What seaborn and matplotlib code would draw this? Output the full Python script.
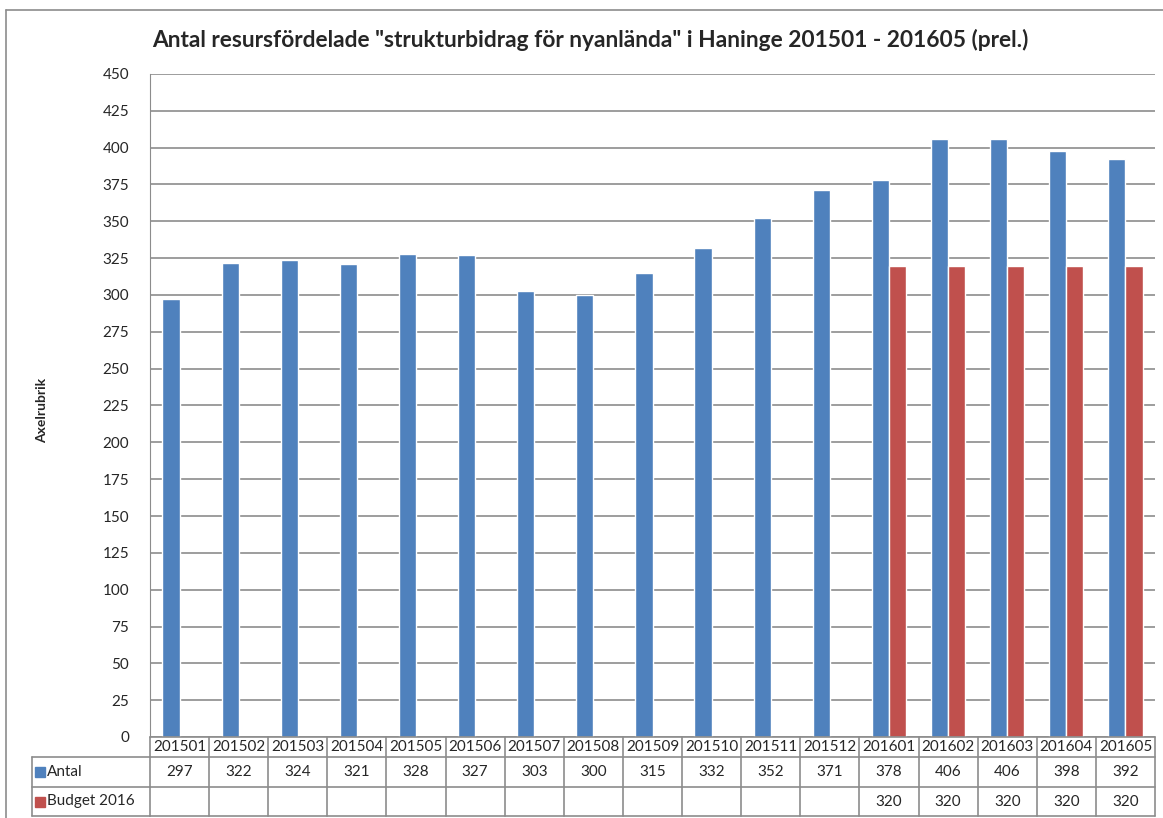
import pandas as pd
import numpy as np
import seaborn as sns
import matplotlib.pyplot as plt
from matplotlib.transforms import blended_transform_factory
from matplotlib.patches import Rectangle

# Data
months = ['201501', '201502', '201503', '201504', '201505', '201506', '201507', '201508', '201509',
          '201510', '201511', '201512', '201601', '201602', '201603', '201604', '201605']
antal = [297, 322, 324, 321, 328, 327, 303, 300, 315, 332, 352, 371, 378, 406, 406, 398, 392]
budget = [None] * 12 + [320, 320, 320, 320, 320]
series = ['Antal', 'Budget 2016']
colors = ['#4F81BD', '#C0504D']

data = pd.DataFrame({
    'Månad': months * 2,
    'Serie': ['Antal'] * len(months) + ['Budget 2016'] * len(months),
    'Värde': antal + budget,
})
data['Värde'] = data['Värde'].astype(float)

sns.set_style('white')
plt.rcParams['font.family'] = ['Lato', 'DejaVu Sans']

W, H = 1163, 818
fig = plt.figure(figsize=(W / 100, H / 100), dpi=100)
ax = fig.add_axes([150 / W, 1 - 737 / H, (1155 - 150) / W, (737 - 74) / H])

sns.barplot(data=data, x='Månad', y='Värde', hue='Serie', hue_order=series,
            palette=colors, width=0.58, saturation=1, ax=ax, legend=False)

ax.set_ylim(0, 450)
ax.set_xlim(-0.5, len(months) - 0.5)
ax.set_yticks(range(0, 451, 25))
ax.tick_params(axis='y', labelsize=11, length=0, pad=15)
ax.set_xticks([])
ax.set_xlabel('')
ax.set_ylabel('')
ax.yaxis.grid(True, color='#8c8c8c', linewidth=1.2)
ax.set_axisbelow(True)
for side in ['top', 'right', 'bottom']:
    ax.spines[side].set_visible(False)
ax.spines['left'].set_color('#8c8c8c')

fig.text(590 / W, 1 - 40 / H,
         'Antal resursfördelade "strukturbidrag för nyanlända" i Haninge 201501 - 201605 (prel.)',
         ha='center', va='center', fontsize=16.4, fontweight='bold')
fig.text(42 / W, 1 - 410 / H, 'Axelrubrik', rotation=90, ha='center', va='center',
         fontsize=10, fontweight='bold')

# data table below the axis
line_col = '#8c8c8c'
tr = blended_transform_factory(ax.transData, fig.transFigure)
fy = lambda p: 1 - p / H
y_head, y_r1, y_r2, y_end = 737, 757, 787, 816
n = len(months)
for k in range(n + 1):
    ax.plot([k - 0.5, k - 0.5], [fy(y_head), fy(y_end)], color=line_col, lw=1.2,
            transform=tr, clip_on=False)
for yy in [y_head, y_r1, y_r2, y_end]:
    ax.plot([-0.5, n - 0.5], [fy(yy), fy(yy)], color=line_col, lw=1.2,
            transform=tr, clip_on=False)
for yy in [y_r1, y_r2, y_end]:
    fig.add_artist(plt.Line2D([32 / W, 150 / W], [fy(yy), fy(yy)], color=line_col, lw=1.2))
fig.add_artist(plt.Line2D([32 / W, 32 / W], [fy(y_r1), fy(y_end)], color=line_col, lw=1.2))

for k, m in enumerate(months):
    ax.text(k, fy((y_head + y_r1) / 2), m, transform=tr, ha='center', va='center', fontsize=11)
    ax.text(k, fy((y_r1 + y_r2) / 2), str(antal[k]), transform=tr, ha='center', va='center',
            fontsize=11)
    if budget[k] is not None:
        ax.text(k, fy((y_r2 + y_end) / 2), str(budget[k]), transform=tr, ha='center',
                va='center', fontsize=11)

for name, col, (a, b) in zip(series, colors, [(y_r1, y_r2), (y_r2, y_end)]):
    yc = (a + b) / 2
    fig.add_artist(Rectangle((35 / W, fy(yc + 5)), 10 / W, 10 / H, color=col))
    fig.text(47 / W, fy(yc), name, ha='left', va='center', fontsize=11)

# outer chart border
fig.add_artist(plt.Line2D([6 / W, 1], [fy(10), fy(10)], color=line_col, lw=1.2))
fig.add_artist(plt.Line2D([6 / W, 6 / W], [fy(10), 0], color=line_col, lw=1.2))

fig.savefig('out.png', dpi=100)
